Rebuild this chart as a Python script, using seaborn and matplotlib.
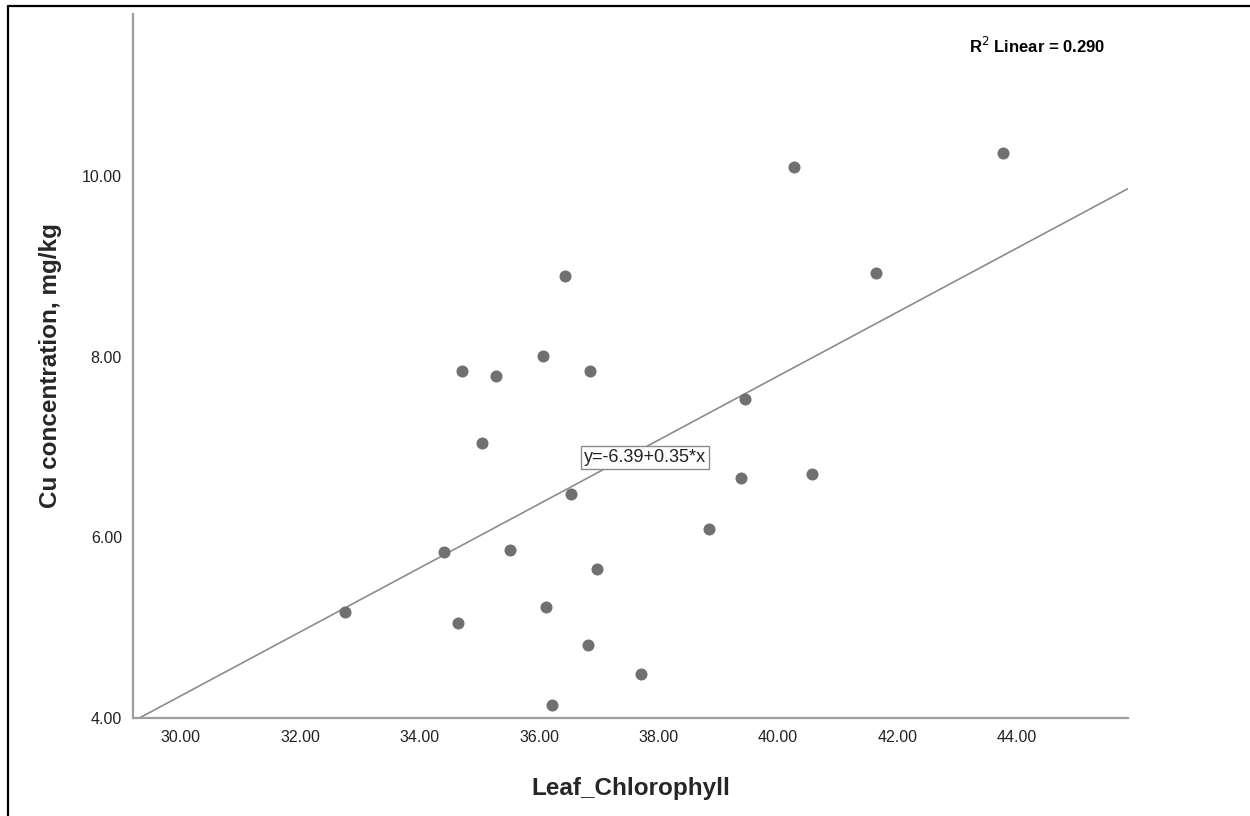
import numpy as np
import pandas as pd
import matplotlib
matplotlib.use("Agg")
import matplotlib.pyplot as plt
from matplotlib.lines import Line2D
import seaborn as sns

# Values
leaf_chlorophyll = [32.75, 34.41, 34.64, 34.71, 35.04, 35.28, 35.51, 36.06,
                    36.11, 36.21, 36.43, 36.53, 36.82, 36.85, 36.97, 37.71,
                    38.84, 39.38, 39.45, 40.27, 40.57, 41.64, 43.77]
cu_conc = [5.18, 5.84, 5.05, 7.84, 7.05, 7.79, 5.86, 8.01,
           5.23, 4.14, 8.90, 6.48, 4.81, 7.85, 5.65, 4.49,
           6.09, 6.66, 7.54, 10.10, 6.70, 8.93, 10.26]

x_ticks = [30, 32, 34, 36, 38, 40, 42, 44]
y_ticks = [4, 6, 8, 10]

df = pd.DataFrame({"Leaf_Chlorophyll": leaf_chlorophyll, "Cu": cu_conc})

sns.set_style("white")
plt.rcParams["font.family"] = ["Liberation Sans", "DejaVu Sans"]

fig = plt.figure(figsize=(12.5, 8.16), dpi=100)
ax = fig.add_axes([0.1064, 0.1201, 0.7960, 0.8627])
ax.set_xlim(29.2, 45.86)
ax.set_ylim(4.0, 11.8)

# points + least squares line across the whole x range
sns.regplot(data=df, x="Leaf_Chlorophyll", y="Cu", ax=ax, ci=None,
            truncate=False,
            scatter_kws={"s": 75, "color": "#707070", "linewidths": 0, "alpha": 1, "zorder": 3},
            line_kws={"color": "#8c8c8c", "lw": 1.2, "zorder": 2})
ax.set_xlim(29.2, 45.86)
ax.set_ylim(4.0, 11.8)

ax.set_xticks(x_ticks)
ax.set_xticklabels([f"{v:.2f}" for v in x_ticks])
ax.set_yticks(y_ticks)
ax.set_yticklabels([f"{v:.2f}" for v in y_ticks])
ax.tick_params(axis="both", length=0, labelsize=11.5, labelcolor="#222222")
ax.tick_params(axis="x", pad=9)
ax.tick_params(axis="y", pad=8)

for s in ["top", "right"]:
    ax.spines[s].set_visible(False)
for s in ["left", "bottom"]:
    ax.spines[s].set_color("#9e9e9e")
    ax.spines[s].set_linewidth(1.6)

ax.set_xlabel("Leaf_Chlorophyll", fontsize=17.5, fontweight="bold")
ax.set_ylabel("Cu concentration, mg/kg", fontsize=17.5, fontweight="bold")
ax.xaxis.set_label_coords(0.5, -0.084)
ax.yaxis.set_label_coords(-0.071, 0.5)

ax.text(37.77, 6.885, "y=-6.39+0.35*x", ha="center", va="center", fontsize=13,
        color="#222222",
        bbox=dict(boxstyle="square,pad=0.15", fc="white", ec="#8c8c8c", lw=1))

fig.text(0.884, 0.9436, r"R$^{2}$ Linear = 0.290", ha="right", va="center",
         fontsize=12, fontweight="bold", color="black")

# screenshot frame (top and left edges)
fig.add_artist(Line2D([0.0064, 1.0], [0.9925, 0.9925], color="black", lw=1.6,
                      transform=fig.transFigure))
fig.add_artist(Line2D([0.0064, 0.0064], [0.0, 0.9925], color="black", lw=1.6,
                      transform=fig.transFigure))

fig.savefig("out.png", dpi=100)
